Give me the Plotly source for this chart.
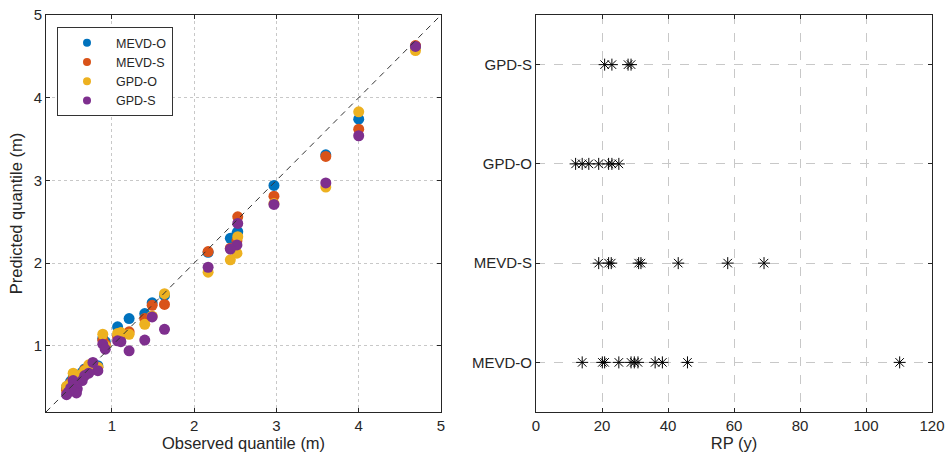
import plotly.graph_objects as go

# ---- Left panel data: observed vs predicted quantiles (m) ----
observed = [4.69, 4.00, 3.60, 2.97, 2.53, 2.52, 2.44, 2.17, 1.64, 1.49, 1.40, 1.21,
            1.11, 1.07, 0.89, 0.92, 0.83, 0.77, 0.72, 0.67, 0.64, 0.58, 0.57, 0.53,
            0.50, 0.47, 0.45]
mevd_o = [4.62, 3.74, 3.31, 2.94, 2.38, 2.36, 2.30, 2.13, 1.61, 1.52, 1.39, 1.33,
          1.12, 1.23, 1.09, 1.05, 0.76, 0.79, 0.74, 0.72, 0.68, 0.64, 0.60, 0.62,
          0.57, 0.52, 0.50]
mevd_s = [4.63, 3.62, 3.29, 2.81, 2.56, 2.27, 2.18, 2.14, 1.50, 1.49, 1.33, 1.17,
          1.13, 1.11, 1.07, 1.02, 0.74, 0.76, 0.72, 0.71, 0.65, 0.62, 0.58, 0.60,
          0.55, 0.47, 0.46]
gpd_o = [4.57, 3.83, 2.92, 2.72, 2.32, 2.12, 2.04, 1.89, 1.63, 1.36, 1.26, 1.14,
         1.16, 1.15, 1.14, 1.00, 0.74, 0.77, 0.77, 0.70, 0.66, 0.60, 0.56, 0.67,
         0.54, 0.50, 0.51]
gpd_s = [4.62, 3.54, 2.97, 2.71, 2.48, 2.22, 2.17, 1.95, 1.20, 1.35, 1.07, 0.94,
         1.05, 1.06, 1.02, 0.96, 0.70, 0.80, 0.67, 0.64, 0.58, 0.48, 0.43, 0.58,
         0.49, 0.44, 0.41]

methods = ["MEVD-O", "MEVD-S", "GPD-O", "GPD-S"]
colors = ["#0072BD", "#D95319", "#EDB120", "#7E2F8E"]
axis_range = [0.2, 5.0]
q_ticks = [1, 2, 3, 4, 5]

# ---- Right panel data: return periods (years) ----
rp_mevd_o = [14.0, 20.1, 20.8, 25.1, 28.8, 29.8, 30.9, 36.1, 38.3, 45.9, 110.2]
rp_mevd_s = [19.0, 22.0, 22.8, 31.1, 31.8, 43.1, 58.1, 69.1]
rp_gpd_o = [12.0, 14.0, 16.0, 19.0, 22.0, 23.0, 25.1]
rp_gpd_s = [20.8, 23.0, 27.9, 28.8]
rp_ticks = [0, 20, 40, 60, 80, 100, 120]

W, H = 946, 464
FONT = "Liberation Sans, Arial, sans-serif"
TXT = "#262626"
AX = "#262626"
GRID = "#c8c8c8"
TICK_SIZE = 15
TITLE_SIZE = 16.5

fig = go.Figure()

preds = [mevd_o, mevd_s, gpd_o, gpd_s]
for name, col, ys in zip(methods, colors, preds):
    fig.add_trace(go.Scatter(x=observed, y=ys, mode="markers", name=name,
                             marker=dict(color=col, size=11, line=dict(width=0)),
                             showlegend=False, xaxis="x", yaxis="y"))
# legend-only entries (smaller markers as in the reference)
for name, col in zip(methods, colors):
    fig.add_trace(go.Scatter(x=[None], y=[None], mode="markers", name=name,
                             marker=dict(color=col, size=8),
                             showlegend=True, xaxis="x", yaxis="y"))

# 1:1 line
fig.add_trace(go.Scatter(x=axis_range, y=axis_range, mode="lines",
                         line=dict(color="#333333", width=1, dash="6px,5px"),
                         showlegend=False, hoverinfo="skip", xaxis="x", yaxis="y"))

# Right panel
rps = [rp_mevd_o, rp_mevd_s, rp_gpd_o, rp_gpd_s]
for name, vals in zip(methods, rps):
    fig.add_trace(go.Scatter(x=vals, y=[name] * len(vals), mode="markers",
                             marker=dict(symbol="asterisk-open", size=10, color="#000000",
                                         line=dict(color="#000000", width=1)),
                             showlegend=False, xaxis="x2", yaxis="y2"))

x1 = [46 / W, 441 / W]
x2 = [536 / W, 932 / W]
yd = [1 - 412 / H, 1 - 15 / H]

common = dict(showline=True, linecolor=AX, linewidth=1, mirror="ticks",
              ticks="inside", ticklen=4, tickcolor=AX, zeroline=False,
              automargin=False,
              tickfont=dict(family=FONT, size=TICK_SIZE, color=TXT),
              showgrid=True, gridcolor=GRID, gridwidth=1)
tfont = dict(size=TITLE_SIZE, family=FONT, color=TXT)

fig.update_layout(
    width=W, height=H,
    margin=dict(l=0, r=0, t=0, b=0, autoexpand=False),
    paper_bgcolor="white", plot_bgcolor="white",
    font=dict(family=FONT, size=13, color=TXT),
    xaxis=dict(domain=x1, range=axis_range, tickvals=q_ticks, griddash="dot",
               title=dict(text="Observed quantile (m)", font=tfont, standoff=4),
               anchor="y", **common),
    yaxis=dict(domain=yd, range=axis_range, tickvals=q_ticks, griddash="dot",
               title=dict(text="Predicted quantile (m)", font=tfont, standoff=6),
               anchor="x", **common),
    xaxis2=dict(domain=x2, range=[rp_ticks[0], rp_ticks[-1]], tickvals=rp_ticks, griddash="dash",
                title=dict(text="RP (y)", font=tfont, standoff=4),
                anchor="y2", **common),
    yaxis2=dict(domain=yd, type="category", categoryorder="array", categoryarray=methods,
                range=[-0.5, 3.5], griddash="dash", anchor="x2", **common),
    legend=dict(x=57 / W, y=1 - 27 / H, xanchor="left", yanchor="top",
                bgcolor="white", bordercolor="#333333", borderwidth=1,
                font=dict(family=FONT, size=12.5, color=TXT),
                itemwidth=48, tracegroupgap=0),
    showlegend=True,
)

fig.write_html("out.html")
